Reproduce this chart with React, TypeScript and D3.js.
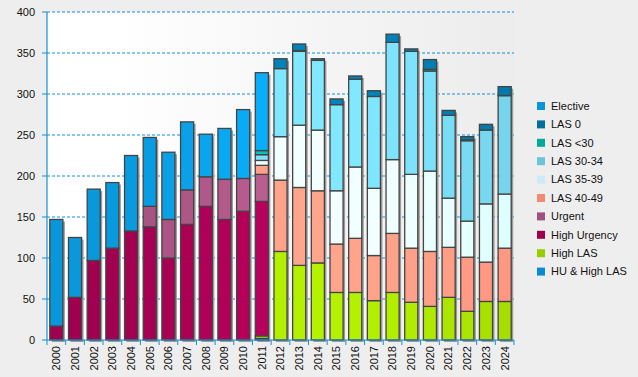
import React from "react";
import * as d3 from "d3";

const years = ["2000","2001","2002","2003","2004","2005","2006","2007","2008","2009","2010","2011","2012","2013","2014","2015","2016","2017","2018","2019","2020","2021","2022","2023","2024"];

const huHighLas = [0,0,0,0,0,0,0,0,0,0,0,2,0,0,0,0,0,0,0,0,0,0,0,0,0];
const highLas = [0,0,0,0,0,0,0,0,0,0,0,3,108,91,94,58,58,48,58,46,41,52,35,47,47];
const highUrgency = [17,52,97,112,133,138,100,141,163,147,157,164,0,0,0,0,0,0,0,0,0,0,0,0,0];
const urgent = [0,0,0,0,0,25,47,42,36,49,40,33,0,0,0,0,0,0,0,0,0,0,0,0,0];
const las4049 = [0,0,0,0,0,0,0,0,0,0,0,11,87,95,88,59,66,55,72,66,67,61,66,48,65];
const las3539 = [0,0,0,0,0,0,0,0,0,0,0,6,53,76,74,65,87,82,90,90,98,60,44,71,66];
const las3034 = [0,0,0,0,0,0,0,0,0,0,0,7,83,90,85,105,107,112,143,150,122,101,98,90,120];
const lasLt30 = [0,0,0,0,0,0,0,0,0,0,0,5,0,1,0,0,0,0,0,0,2,0,1,0,0];
const las0 = [0,0,0,0,0,0,0,0,0,0,0,0,12,8,2,7,4,7,10,3,12,6,4,7,11];
const elective = [130,73,87,80,92,84,82,83,52,62,84,95,0,0,0,0,0,0,0,0,0,0,0,0,0];

const seriesNames = ["HU & High LAS","High LAS","High Urgency","Urgent","LAS 40-49","LAS 35-39","LAS 30-34","LAS <30","LAS 0","Elective"];
const seriesValues = [huHighLas, highLas, highUrgency, urgent, las4049, las3539, las3034, lasLt30, las0, elective];
const seriesColors = ["#0a8ad0","#98cc00","#9e004e","#a0507c","#f28b76","#cdeaf7","#6cc4da","#00a99c","#006f9e","#0896d8"];

const yTicks = [0,50,100,150,200,250,300,350,400];

const W = 638, H = 377;
const left = 47, right = 514, top = 12, bottom = 340;

export default function App() {
  const x = d3.scaleBand<string>().domain(years).range([left, right]).padding(0);
  const y = d3.scaleLinear().domain([0, 400]).range([bottom, top]);
  const step = x.step();
  const bw = step * 0.7;

  const table = years.map((yr, i) => {
    const row: any = { year: yr };
    seriesNames.forEach((n, j) => (row[n] = seriesValues[j][i]));
    return row;
  });
  const stacked = d3.stack<any>().keys(seriesNames)(table);
  const totals = years.map((_, i) => seriesValues.reduce((s, v) => s + v[i], 0));

  const light = (i: number) => {
    const sigma = i < 14 ? 8 : 12;
    return 0.48 * Math.exp(-Math.pow((i - 14) / sigma, 2));
  };
  const colorFor = (j: number, i: number) => d3.color(seriesColors[j])!.brighter(light(i)).formatHex();

  const font = "'Liberation Sans', Arial, sans-serif";
  const axisColor = "#1590d6";

  const legendOrder = [...seriesNames.keys()].reverse();

  return (
    <svg width={W} height={H} style={{ position: "absolute", left: 0, top: 0 }} fontFamily={font}>
      <defs>
        <linearGradient id="bg" x1="0" x2="1" y1="0" y2="0">
          <stop offset="0" stopColor="#ffffff" />
          <stop offset="0.15" stopColor="#ffffff" />
          <stop offset="1" stopColor="#ececec" />
        </linearGradient>
      </defs>
      <rect x={0} y={0} width={W} height={H} fill="#eeeeee" />
      <rect x={left} y={top} width={right - left} height={bottom - top} fill="url(#bg)" />
      {yTicks.filter(t => t > 0).map(t => (
        <line key={"g" + t} x1={left} x2={right} y1={y(t)} y2={y(t)} stroke={axisColor} strokeWidth={1} strokeDasharray="3,2" />
      ))}
      {years.map((yr, i) => totals[i] > 0 && (
        <rect key={"s" + yr} x={x(yr)! + (step - bw) / 2 + 2} y={y(totals[i]) + 2} width={bw} height={bottom - y(totals[i])} fill="#9c9c9c" />
      ))}
      {stacked.map((ser, j) => (
        <g key={ser.key}>
          {ser.map((d, i) => {
            const h = y(d[0]) - y(d[1]);
            if (h <= 0) return null;
            return (
              <rect key={i} x={x(years[i])! + (step - bw) / 2} y={y(d[1])} width={bw} height={h}
                fill={colorFor(j, i)} stroke="#444444" strokeWidth={1.3} />
            );
          })}
        </g>
      ))}
      <line x1={left} x2={left} y1={top} y2={bottom} stroke={axisColor} strokeWidth={1.2} />
      <line x1={left} x2={right} y1={bottom} y2={bottom} stroke={axisColor} strokeWidth={1.2} />
      {yTicks.map(t => (
        <g key={"t" + t}>
          <line x1={left - 5} x2={left} y1={y(t)} y2={y(t)} stroke={axisColor} strokeWidth={1} />
          <text x={35} y={y(t)} dy="0.35em" textAnchor="end" fontSize={11} fill="#111">{t}</text>
        </g>
      ))}
      {d3.range(years.length + 1).map(k => (
        <line key={"xt" + k} x1={left + k * step} x2={left + k * step} y1={bottom} y2={bottom + 5} stroke={axisColor} strokeWidth={1} />
      ))}
      {years.map(yr => {
        const cx = x(yr)! + step / 2;
        return (
          <text key={"xl" + yr} transform={`translate(${cx},${bottom + 6}) rotate(-90)`} textAnchor="end" dy="0.35em" fontSize={11} fill="#111">{yr}</text>
        );
      })}
      {legendOrder.map((j, r) => {
        const ly = 106 + r * 18.4;
        return (
          <g key={"lg" + j}>
            <rect x={537} y={ly - 4} width={8} height={8} fill={seriesColors[j]} />
            <text x={551} y={ly} dy="0.35em" fontSize={11} fill="#111">{seriesNames[j]}</text>
          </g>
        );
      })}
    </svg>
  );
}
